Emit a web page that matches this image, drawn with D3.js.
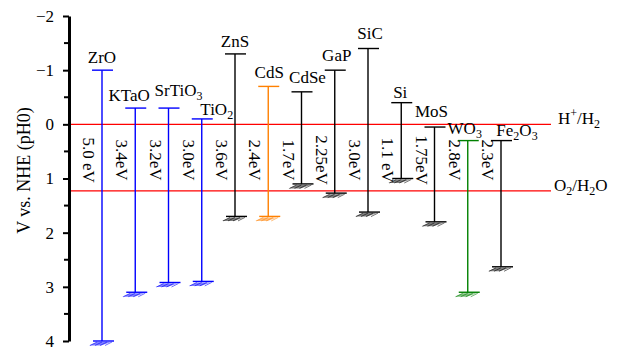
<!DOCTYPE html>
<html><head><meta charset="utf-8">
<script src="https://cdn.jsdelivr.net/npm/d3@7"></script>
<style>
body{margin:0;background:#fff}
svg text{font-family:"Liberation Serif","Tinos","DejaVu Serif",serif !important;fill:#000}
</style>
</head><body>
<svg id="chart" width="642" height="354" style="font-family:'Liberation Serif','DejaVu Serif',serif"></svg>
<script>
// ---- data ----
const materials = ["ZrO","KTaO","SrTiO3","TiO2","ZnS","CdS","CdSe","GaP","SiC","Si","MoS","WO3","Fe2O3"];
const cbEdge = [-1.0,-0.3,-0.3,-0.1,-1.3,-0.7,-0.6,-1.0,-1.4,-0.4,0.05,0.3,0.3];
const vbEdge = [4.0,3.1,2.92,2.9,1.7,1.7,1.1,1.27,1.62,1.0,1.8,3.1,2.63];
const gapLabels = ["5.0 eV","3.4eV","3.2eV","3.0eV","3.6eV","2.4eV","1.7eV","2.25eV","3.0eV","1.1 eV","1.75eV","2.8eV","2.3eV"];
const yTicks = [-2,-1,0,1,2,3,4];
const yMinorTicks = [-1.5,-0.5,0.5,1.5,2.5,3.5];
const redoxLevels = [0, 1.23];
const redoxNames = ["H+/H2","O2/H2O"];
const yTitle = "V vs. NHE (pH0)";

// ---- styles / layout ----
const SERIF = "'Liberation Serif','DejaVu Serif',serif";
const colorOf = {ZrO:"#0000ff",KTaO:"#0000ff",SrTiO3:"#0000ff",TiO2:"#0000ff",CdS:"#ff8000",WO3:"#008000"};
const nameNudge = {KTaO:[-6,0],SrTiO3:[10,-5],TiO2:[15,3],CdS:[1,-1],CdSe:[6,-2],GaP:[2,-2],SiC:[2,-3],Si:[-1,2],MoS:[-3,-3],WO3:[-3,0],Fe2O3:[16,2]};

const svg = d3.select("#chart");
const y = d3.scaleLinear().domain([-2,4]).range([16,341]);
const x = d3.scalePoint().domain(materials).range([102,501]);
const axisX = 69;
const FS = 17;

// sub/superscript helper
function richText(sel, str){
  const parts = str.match(/\d+|\+|[^\d+]+/g);
  let shift = 0;
  parts.forEach(p=>{
    let target = 0;
    if(/^\d+$/.test(p)) target = 4;
    else if(p==="+") target = -7;
    const t = sel.append("tspan").attr("dy", target-shift).text(p);
    if(target!==0) t.attr("font-size", Math.round(FS*0.7));
    shift = target;
  });
}

// redox lines
svg.selectAll("line.redox").data(redoxLevels).join("line")
  .attr("class","redox")
  .attr("x1",axisX).attr("x2",551)
  .attr("y1",d=>y(d)).attr("y2",d=>y(d))
  .attr("stroke","#ff0000").attr("stroke-width",1.2);

redoxNames.forEach((n,i)=>{
  const t = svg.append("text").attr("x", i===0?558:554).attr("y", y(redoxLevels[i]))
    .attr("font-size",FS).attr("font-family",SERIF);
  richText(t,n);
});

// bars
const rows = materials.map((m,i)=>({m, cb:cbEdge[i], vb:vbEdge[i], gap:gapLabels[i], c:colorOf[m]||"#000"}));
const g = svg.selectAll("g.bar").data(rows).join("g").attr("class","bar");

g.append("line")
  .attr("x1",d=>x(d.m)).attr("x2",d=>x(d.m))
  .attr("y1",d=>y(d.cb)).attr("y2",d=>y(d.vb))
  .attr("stroke",d=>d.c).attr("stroke-width",1.4);
g.append("line")
  .attr("x1",d=>x(d.m)-10).attr("x2",d=>x(d.m)+11)
  .attr("y1",d=>y(d.cb)).attr("y2",d=>y(d.cb))
  .attr("stroke",d=>d.c).attr("stroke-width",1.4);
g.append("line")
  .attr("x1",d=>x(d.m)-9).attr("x2",d=>x(d.m)+12)
  .attr("y1",d=>y(d.vb)).attr("y2",d=>y(d.vb))
  .attr("stroke",d=>d.c).attr("stroke-width",1.4);
// hatch under bottom cap
g.append("polygon")
  .attr("points",d=>{const cx=x(d.m), yy=y(d.vb);
    return [[cx-5,yy+1],[cx+9,yy+1],[cx-1,yy+4.5],[cx-13,yy+4.5]].map(p=>p.join(",")).join(" ");})
  .attr("fill",d=>d.c).attr("fill-opacity",0.5);
g.each(function(d){
  const cx=x(d.m), yy=y(d.vb), s=d3.select(this);
  for(let k=0;k<4;k++){
    s.append("line").attr("x1",cx-12+k*5).attr("y1",yy+4.5).attr("x2",cx-5+k*5).attr("y2",yy+1)
      .attr("stroke",d.c).attr("stroke-width",0.7).attr("stroke-opacity",0.8);
  }
});

// names
g.append("text")
  .attr("x",d=>x(d.m)+(nameNudge[d.m]||[0,0])[0])
  .attr("y",d=>y(d.cb)-7+(nameNudge[d.m]||[0,0])[1])
  .attr("text-anchor","middle").attr("font-size",FS).attr("font-family",SERIF)
  .each(function(d){ richText(d3.select(this), d.m); });

// gap labels (rotated)
g.append("text")
  .attr("transform",d=>`translate(${x(d.m)-19},${y(0.66)}) rotate(90)`)
  .attr("text-anchor","middle").attr("font-size",FS).attr("font-family",SERIF)
  .text(d=>d.gap);

// y axis
const fmt = v => v<0 ? "\u2212"+Math.abs(v) : String(v);
const ax = svg.append("g").attr("transform",`translate(${axisX},0)`)
  .call(d3.axisLeft(y).tickValues(yTicks).tickFormat(fmt).tickSize(6).tickSizeOuter(0).tickPadding(9));
ax.attr("font-family",SERIF).attr("font-size",FS);
ax.select(".domain").attr("stroke","#000").attr("stroke-width",3);
ax.selectAll(".tick line").attr("stroke","#000").attr("stroke-width",2);
ax.selectAll(".tick text").attr("font-size",FS).attr("font-family",SERIF).attr("fill","#000");
svg.append("g").attr("transform",`translate(${axisX},0)`)
  .selectAll("line").data(yMinorTicks).join("line")
  .attr("x1",-5).attr("x2",0).attr("y1",d=>y(d)).attr("y2",d=>y(d))
  .attr("stroke","#000").attr("stroke-width",2);

svg.append("text")
  .attr("transform",`translate(30,${(108+233)/2}) rotate(-90)`)
  .attr("text-anchor","middle").attr("font-size",18).attr("font-family",SERIF)
  .text(yTitle);
</script>
</body></html>
